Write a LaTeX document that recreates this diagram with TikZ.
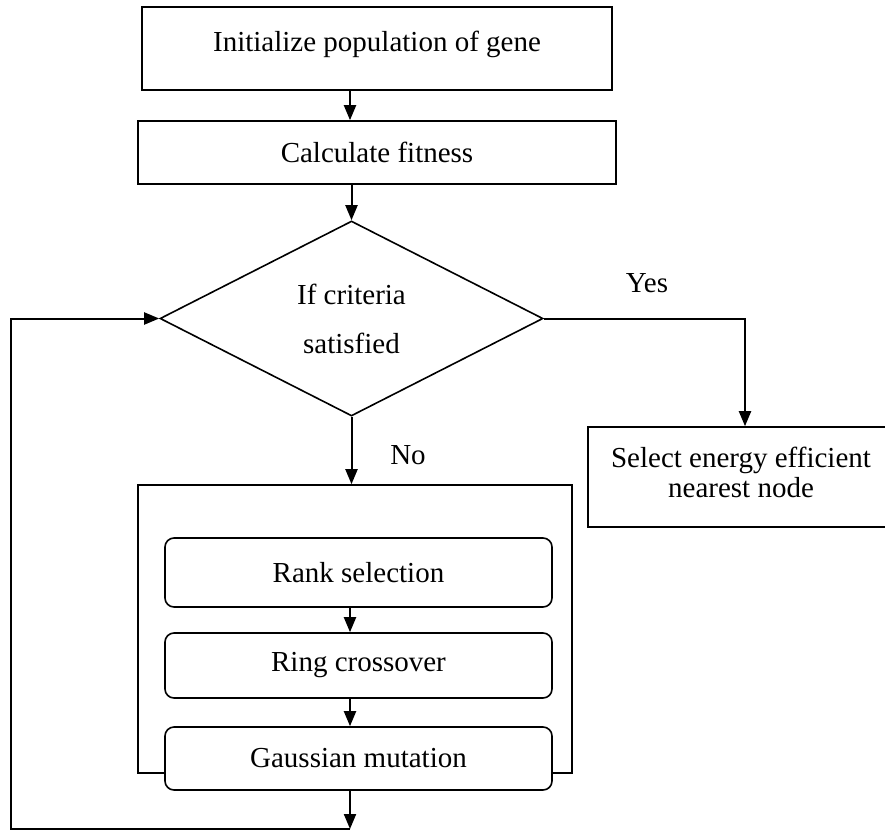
\documentclass[tikz,border=0pt]{standalone}
\usepackage{fontspec}
\setmainfont{Liberation Serif}
\usetikzlibrary{arrows.meta,shapes.geometric,calc}
\begin{document}
\begin{tikzpicture}[x=1pt,y=-1pt,
  line width=1.6pt,
  every node/.style={font=\fontsize{29}{35}\selectfont},
  box/.style={draw, rectangle, inner sep=0pt},
  rbox/.style={draw, rectangle, rounded corners=9pt, fill=white, inner sep=0pt, minimum width=387pt},
  arr/.style={-{Triangle[length=15pt,width=12pt]}, line width=2pt},
  lbl/.style={inner sep=0pt}]
\useasboundingbox (0,0) rectangle (885,832);
\clip (0,0) rectangle (885,832);
\coordinate (ax) at (350,0);
\coordinate (yx) at (745,0);
\node[box, minimum width=470pt, minimum height=83pt] (init) at (377,48.5) {};
\node[lbl] (initT) at (377,44) {Initialize population of gene};
\node[box, minimum width=478pt, minimum height=63pt] (calc) at (377,152.5) {Calculate fitness};
\node[draw, diamond, aspect=2, inner sep=0pt, minimum width=383pt, minimum height=195pt, align=center] (dia) at (351.5,318.5) {If criteria\\[14pt]satisfied};
\node[lbl] (yes) at (647,283) {Yes};
\node[lbl] (no) at (408,455) {No};
\node[box, minimum width=307pt, minimum height=100pt] (sel) at (741.5,477) {};
\node[lbl, align=center, font=\fontsize{29}{30}\selectfont] (selT) at (741,472) {Select energy efficient\\nearest node};
\node[box, minimum width=434pt, minimum height=288pt] (big) at (355,629) {};
\node[rbox, minimum height=69pt] (rank) at (358.5,572.5) {Rank selection};
\node[rbox, minimum height=65pt] (ring) at (358.5,665.5) {Ring crossover};
\node[rbox, minimum height=63pt] (gauss) at (358.5,758.5) {Gaussian mutation};
\coordinate (bot) at (350,829);
\coordinate (lb) at (11,829);
\draw[arr] (init.south -| ax) -- (calc.north -| ax);
\draw[arr] (calc.south -| dia.north) -- (dia.north);
\draw[arr] (dia.east) -| (sel.north -| yx);
\draw[arr] (dia.south) -- (big.north -| dia.south);
\draw[arr] (rank.south -| ax) -- (ring.north -| ax);
\draw[arr] (ring.south -| ax) -- (gauss.north -| ax);
\draw[arr] (gauss.south -| ax) -- (bot);
\draw[arr] (bot) -- (lb) |- (dia.west);
\end{tikzpicture}
\end{document}
